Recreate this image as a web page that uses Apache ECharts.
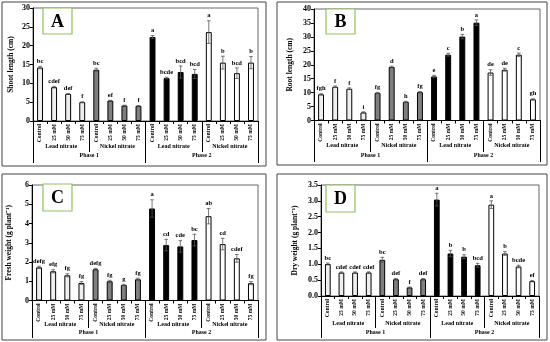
<!DOCTYPE html>
<html><head><meta charset="utf-8">
<script src="https://cdn.jsdelivr.net/npm/echarts@6/dist/echarts.min.js"></script>
<style>html,body{margin:0;padding:0;background:#fff}#c{width:550px;height:342px}</style>
</head><body><div id="c"></div>
<script>
const doses = ['Control','25 mM','50 mM','75 mM'];
const salts = ['Lead nitrate','Nickel nitrate','Lead nitrate','Nickel nitrate'];
const phases = ['Phase 1','Phase 2'];

const shootLength = [14.2,9.0,7.2,5.0, 13.6,5.4,4.1,4.0, 22.3,11.4,13.0,12.5, 23.6,15.5,12.7,15.5];
const shootErr    = [0.3,0.2,0.1,0.1, 0.4,0.1,0.1,0.1, 0.4,0.2,1.6,1.2, 3.0,1.7,1.4,1.6];
const shootLetters = ['bc','cdef','def','f','bc','ef','f','f','a','bcde','bcd','bcd','a','b','bcd','b'];

const rootLength = [9.4,12.1,11.4,2.9, 9.9,19.2,6.7,10.2, 15.8,23.6,30.1,35.1, 17.2,18.2,23.6,7.6];
const rootErr    = [0.2,0.3,0.3,0.2, 0.2,0.3,0.2,0.2, 0.4,0.5,0.8,1.0, 1.0,0.5,0.6,0.2];
const rootLetters = ['fgh','f','f','i','fg','d','h','fg','e','c','b','a','de','de','c','gh'];

const freshWeight = [1.72,1.52,1.31,0.91, 1.62,1.00,0.81,1.10, 4.78,2.88,2.81,3.14, 4.38,2.93,2.19,0.90];
const freshErr    = [0.06,0.08,0.08,0.07, 0.05,0.05,0.03,0.06, 0.45,0.30,0.30,0.30, 0.40,0.30,0.20,0.08];
const freshLetters = ['defg','efg','fg','fg','defg','fg','g','fg','a','cd','cde','bc','ab','cd','cdef','fg'];

const dryWeight = [1.01,0.74,0.74,0.74, 1.14,0.53,0.27,0.53, 3.04,1.34,1.24,0.97, 2.88,1.34,0.93,0.47];
const dryErr    = [0.03,0.02,0.02,0.02, 0.08,0.02,0.01,0.02, 0.20,0.10,0.06,0.06, 0.12,0.06,0.04,0.02];
const dryLetters = ['bc','cdef','cdef','cdef','bc','def','f','def','a','b','b','bcd','a','b','bcde','ef'];

const categories = [];
salts.forEach(() => doses.forEach(d => categories.push(d)));

const groupColors = ['#efefef','#7f7f7f','#000000','#ffffff'];
const FONT = '"Liberation Serif","Times New Roman",serif';

const panels = [
  {tag:'A', name:'Shoot length (cm)', vals:shootLength, err:shootErr, let:shootLetters, max:30, interval:5, dec:0,
   grid:{left:33, top:8, width:225, height:113}, nameGap:18, gTick:31, pTick:42, gMargin:22, pMargin:31,
   frame:[2,2,264,164], box:[43,8,29,26]},
  {tag:'B', name:'Root length (cm)', vals:rootLength, err:rootErr, let:rootLetters, max:40, interval:5, dec:0,
   grid:{left:314, top:9, width:226, height:111.5}, nameGap:20, gTick:31.5, pTick:41.5, gMargin:22, pMargin:31.5,
   frame:[277,2,270,163], box:[326,9,29,25]},
  {tag:'C', name:'Fresh weight (g plant\u207B\u00B9)', vals:freshWeight, err:freshErr, let:freshLetters, max:6, interval:1, dec:0,
   grid:{left:32, top:185, width:226, height:115.5}, nameGap:19, gTick:27.5, pTick:37.5, gMargin:21, pMargin:29,
   frame:[2,174,264,166], box:[43,184,29,27]},
  {tag:'D', name:'Dry weight (g plant\u207B\u00B9)', vals:dryWeight, err:dryErr, let:dryLetters, max:3.5, interval:0.5, dec:1,
   grid:{left:321, top:185, width:218, height:111}, nameGap:22, gTick:32, pTick:42, gMargin:24.5, pMargin:33.5,
   frame:[277,174,270,166], box:[326,185,29,27]}
];

const option = {animation:false, grid:[], xAxis:[], yAxis:[], series:[], graphic:[]};

panels.forEach((p, k) => {
  option.grid.push(Object.assign({show:true, borderColor:'#666', borderWidth:1}, p.grid));
  const base = option.xAxis.length;
  option.xAxis.push({
    type:'category', gridIndex:k, data:categories, position:'bottom',
    axisLine:{lineStyle:{color:'#000', width:1}},
    axisTick:{show:true, length:3, lineStyle:{color:'#000'}},
    axisLabel:{rotate:90, margin:3, fontSize:5.5, fontWeight:'bold', fontFamily:FONT, color:'#000', interval:0}
  });
  option.xAxis.push({
    type:'category', gridIndex:k, data:salts, position:'bottom',
    axisLine:{show:false},
    axisTick:{show:true, length:p.gTick, lineStyle:{color:'#000'}},
    axisLabel:{margin:p.gMargin, fontSize:6, fontWeight:'bold', fontFamily:FONT, color:'#000', interval:0}
  });
  option.xAxis.push({
    type:'category', gridIndex:k, data:phases, position:'bottom',
    axisLine:{show:false},
    axisTick:{show:true, length:p.pTick, lineStyle:{color:'#000'}},
    axisLabel:{margin:p.pMargin, fontSize:6, fontWeight:'bold', fontFamily:FONT, color:'#000', interval:0}
  });
  option.yAxis.push({
    type:'value', gridIndex:k, min:0, max:p.max, interval:p.interval,
    name:p.name, nameLocation:'middle', nameRotate:90, nameGap:p.nameGap,
    nameTextStyle:{fontSize:7.5, fontWeight:'bold', fontFamily:FONT, color:'#000'},
    axisLine:{show:true, lineStyle:{color:'#000'}},
    axisTick:{show:true, length:3, lineStyle:{color:'#000'}},
    splitLine:{show:false},
    axisLabel:{margin:3, fontSize:8, fontWeight:'bold', fontFamily:FONT, color:'#000',
      formatter: v => v.toFixed(p.dec)}
  });
  option.series.push({
    type:'bar', xAxisIndex:base, yAxisIndex:k, barWidth:'42%',
    data:p.vals.map((v,i) => ({value:v, itemStyle:{color:groupColors[Math.floor(i/4)], borderColor:'#000', borderWidth:1}})),
    z:2
  });
  option.series.push({
    type:'custom', xAxisIndex:base, yAxisIndex:k, z:5,
    data:p.vals.map((v,i) => [i, v, p.err[i], p.let[i]]),
    renderItem:(params, api) => {
      const i = api.value(0), v = api.value(1), e = api.value(2);
      const letter = p.let[params.dataIndex];
      const top = api.coord([i, v + e]);
      const bot = api.coord([i, v - e]);
      const hw = api.size([1, 0])[0] * 0.13;
      const ls = {stroke:'#555', lineWidth:0.8};
      return {type:'group', children:[
        {type:'line', shape:{x1:top[0], y1:top[1], x2:bot[0], y2:bot[1]}, style:ls},
        {type:'line', shape:{x1:top[0]-hw, y1:top[1], x2:top[0]+hw, y2:top[1]}, style:ls},
        {type:'line', shape:{x1:bot[0]-hw, y1:bot[1], x2:bot[0]+hw, y2:bot[1]}, style:ls},
        {type:'text', style:{text:letter, x:top[0], y:top[1]-1.5, textAlign:'center', textVerticalAlign:'bottom',
          font:'bold 6.5px ' + FONT, fill:'#000'}}
      ]};
    }
  });
  option.graphic.push({type:'rect', shape:{x:p.frame[0], y:p.frame[1], width:p.frame[2], height:p.frame[3]},
    style:{fill:'none', stroke:'#444', lineWidth:1}, z:-1});
  option.graphic.push({type:'rect', shape:{x:p.box[0], y:p.box[1], width:p.box[2], height:p.box[3]},
    style:{fill:'#fff', stroke:'#8fc15a', lineWidth:1.2}, z:10});
  option.graphic.push({type:'text', x:p.box[0]+p.box[2]/2, y:p.box[1]+p.box[3]/2+1,
    style:{text:p.tag, textAlign:'center', textVerticalAlign:'middle', font:'bold 18px ' + FONT, fill:'#000'}, z:11});
});

const chart = echarts.init(document.getElementById('c'), null, {renderer:'canvas'});
chart.setOption(option);
</script></body></html>
